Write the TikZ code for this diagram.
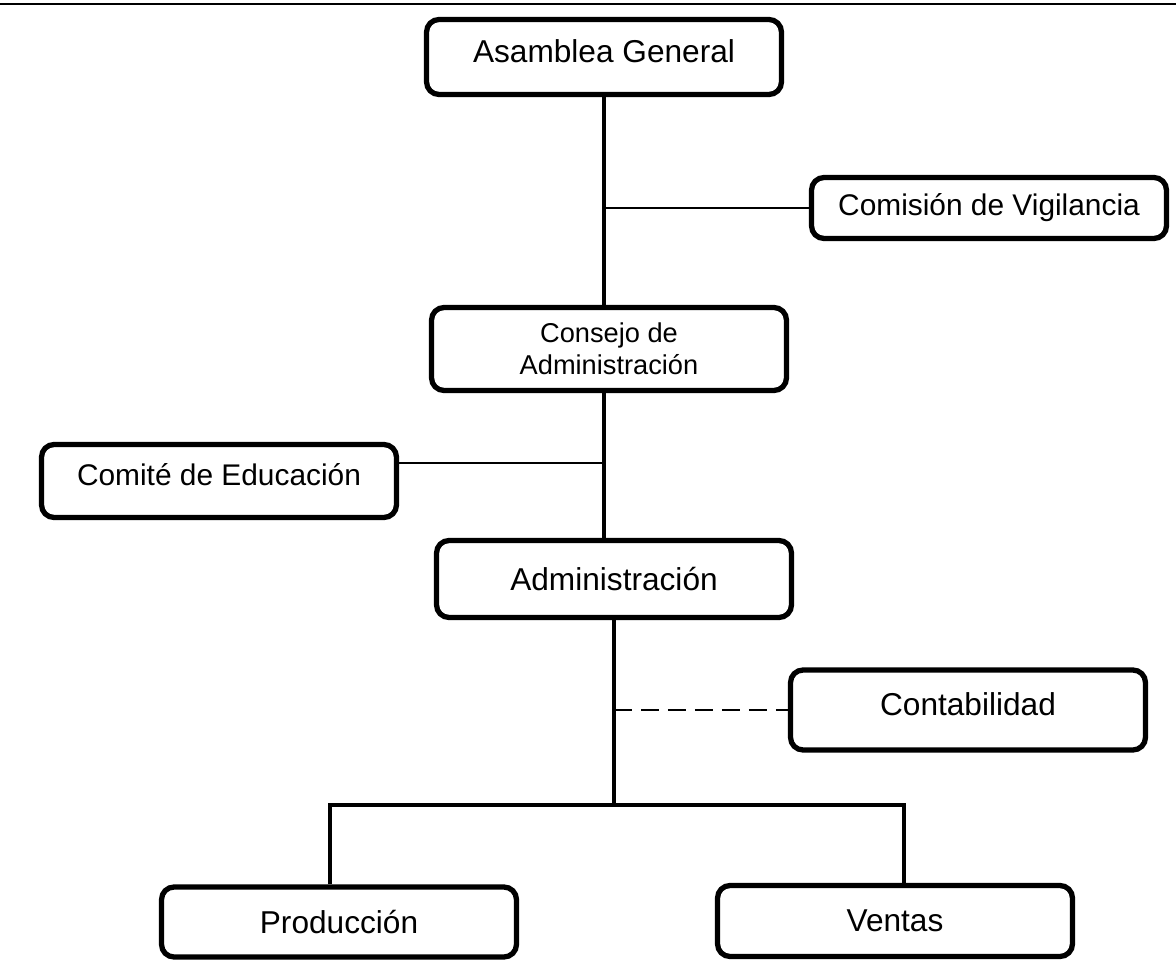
\documentclass[tikz,border=0pt]{standalone}
\usepackage{fontspec}
\setmainfont{Liberation Sans}
\usetikzlibrary{calc}

\begin{document}
\begin{tikzpicture}[x=0.02cm,y=-0.02cm,
   bx/.style={draw,line width=3pt,rounded corners=0.25cm,minimum width=7.1cm,align=center,inner sep=0pt},
   big/.style={font=\fontsize{18}{21}\selectfont},
   up/.style={text depth=0.24cm},
   trunk/.style={line width=2.7pt},
   lnk/.style={line width=1.3pt}]
  \useasboundingbox (0,0) rectangle (1176,962);
  \draw[line width=0.8pt] (0,4) -- (1176,4);
  \node[bx,big,up,minimum height=1.5cm] (ag) at (604,57) {Asamblea General};
  \node[bx,minimum height=1.22cm,font=\fontsize{17}{20}\selectfont] (cv) at (989,208) {Comisión de Vigilancia};
  \node[bx,minimum height=1.66cm,font=\fontsize{15.5}{18.2}\selectfont] (ca) at (609,349) {Consejo de\\Administración};
  \node[bx,up,minimum height=1.46cm,font=\fontsize{17}{20}\selectfont] (ce) at (219,481) {Comité de Educación};
  \node[bx,big,minimum height=1.54cm] (ad) at (614,579) {Administración};
  \node[bx,big,up,minimum height=1.6cm] (ct) at (968,710) {Contabilidad};
  \node[bx,big,minimum height=1.4cm] (pr) at (339,922) {Producción};
  \node[bx,big,minimum height=1.42cm] (ve) at (895,921) {Ventas};
  \coordinate (bl) at (330,805);
  \coordinate (br) at (904,805);
  % main line
  \draw[trunk] (ag.south) -- (ag.south |- ca.north);
  \draw[trunk] (ag.south |- ca.south) -- (ag.south |- ad.north);
  \draw[trunk] (ad.south) -- (ad.south |- bl);
  \draw[trunk] (bl |- pr.north) -- (bl) -- (br) -- (br |- ve.north);
  % staff units
  \draw[lnk] (cv.west) -- (cv.west -| ag.south);
  \draw[lnk] ([yshift=0.36cm]ce.east) -- ([yshift=0.36cm]ce.east -| ag.south);
  \draw[lnk,dash pattern=on 0.36cm off 0.18cm] (ad.south |- ct.west) -- (ct.west);
\end{tikzpicture}
\end{document}
